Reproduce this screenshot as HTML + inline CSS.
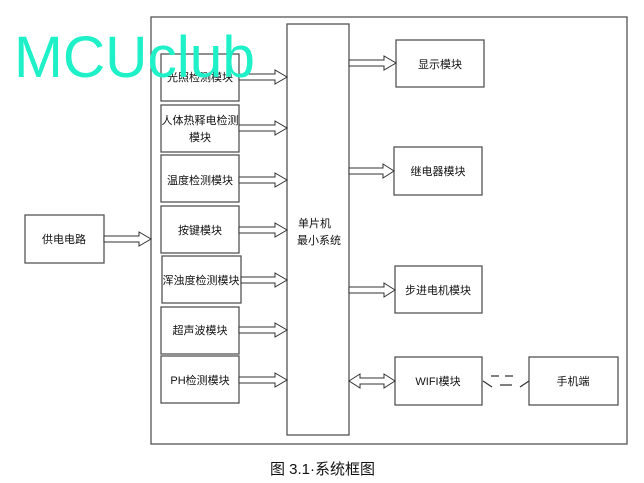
<!DOCTYPE html>
<html><head><meta charset="utf-8"><style>
html,body{margin:0;padding:0;background:#fff;width:644px;height:483px;overflow:hidden}
svg text{font-family:"Liberation Sans","Noto Sans CJK SC",sans-serif;font-size:11px;fill:#111}
</style></head><body>
<svg width="644" height="483" viewBox="0 0 644 483" xmlns="http://www.w3.org/2000/svg">
<g fill="#fff" stroke="#555" stroke-width="1.3">
<rect x="151" y="17" width="476" height="427"/>
<rect x="287" y="24" width="62" height="411"/>
<rect x="161" y="54" width="78" height="47"/>
<rect x="161" y="105" width="78" height="47"/>
<rect x="161" y="155" width="78" height="47"/>
<rect x="161" y="206" width="78" height="47"/>
<rect x="162" y="256" width="79" height="47"/>
<rect x="161" y="307" width="78" height="47"/>
<rect x="161" y="356" width="78" height="47"/>
<rect x="25" y="215" width="79" height="48"/>
<rect x="396" y="40" width="88" height="47"/>
<rect x="394" y="147" width="88" height="48"/>
<rect x="395" y="266" width="87" height="47"/>
<rect x="395" y="357" width="87" height="48"/>
<rect x="529" y="357" width="89" height="48"/>
</g>
<g fill="#fff" stroke="#333" stroke-width="1">
<polygon points="239,74 275,74 275,70 287,77 275,84 275,80 239,80"/>
<polygon points="239,125 275,125 275,121 287,128 275,135 275,131 239,131"/>
<polygon points="239,177 275,177 275,173 287,180 275,187 275,183 239,183"/>
<polygon points="239,227 275,227 275,223 287,230 275,237 275,233 239,233"/>
<polygon points="241,277 275,277 275,273 287,280 275,287 275,283 241,283"/>
<polygon points="239,327 275,327 275,323 287,330 275,337 275,333 239,333"/>
<polygon points="239,377 275,377 275,373 287,380 275,387 275,383 239,383"/>
<polygon points="104,236 139,236 139,232 151,239 139,246 139,242 104,242"/>
<polygon points="349,60 384,60 384,56 396,63 384,70 384,66 349,66"/>
<polygon points="349,168 383,168 383,164 394,171 383,178 383,174 349,174"/>
<polygon points="349,287 384,287 384,283 395,290 384,297 384,293 349,293"/>
<polygon points="349,381 360,374 360,378 384,378 384,374 395,381 384,388 384,384 360,384 360,388"/>
</g>
<g stroke="#333" stroke-width="1.2" fill="none">
<path d="M483,381 L492,387 M491,376 L499,376 M505,376 L513,376 M500,385 L512,385 M520,387 L529,381"/>
</g>
<text x="200" y="81" text-anchor="middle">光照检测模块</text>
<text x="200" y="124" text-anchor="middle">人体热释电检测</text>
<text x="200" y="141" text-anchor="middle">模块</text>
<text x="200" y="184" text-anchor="middle">温度检测模块</text>
<text x="200" y="234" text-anchor="middle">按键模块</text>
<text x="201" y="284" text-anchor="middle">浑浊度检测模块</text>
<text x="200" y="334" text-anchor="middle">超声波模块</text>
<text x="200" y="384" text-anchor="middle">PH检测模块</text>
<text x="64" y="243" text-anchor="middle">供电电路</text>
<text x="440" y="68" text-anchor="middle">显示模块</text>
<text x="438" y="175" text-anchor="middle">继电器模块</text>
<text x="438" y="294" text-anchor="middle">步进电机模块</text>
<text x="438" y="385" text-anchor="middle">WIFI模块</text>
<text x="573" y="385" text-anchor="middle">手机端</text>
<text x="298" y="227">单片机</text>
<text x="297" y="244">最小系统</text>
<text x="270" y="474" style="font-size:15px">图 3.1·系统框图</text>
<text x="14" y="77" textLength="241" lengthAdjust="spacingAndGlyphs" style="font-family:'Liberation Sans',sans-serif;font-size:58px;fill:#1ef0c8">MCUclub</text>
</svg>
</body></html>
